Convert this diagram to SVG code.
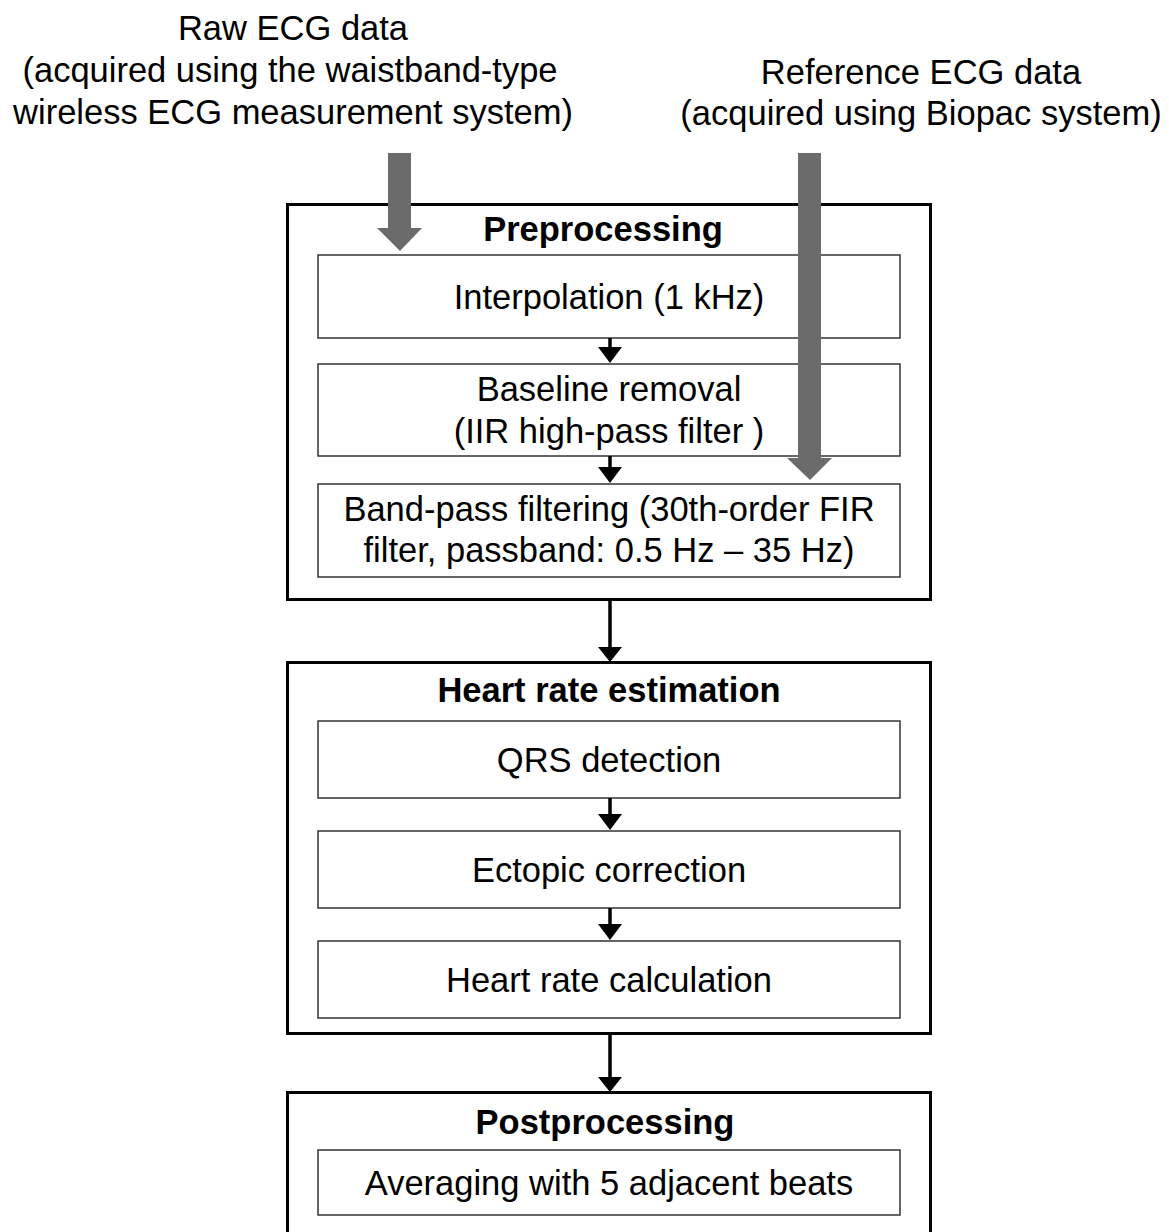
<svg xmlns="http://www.w3.org/2000/svg" width="1169" height="1232" viewBox="0 0 1169 1232">
  <style>
    text { font-family: "Liberation Sans", Arial, sans-serif; font-size: 34.5px; fill: #000; text-anchor: middle; }
    .title { font-weight: bold; }
    .outer { fill: #fff; stroke: #000; stroke-width: 3; }
    .inner { fill: #fff; stroke: #333; stroke-width: 1.5; }
    .link { stroke: #000; stroke-width: 3.5; fill: none; }
    .head { fill: #000; }
    .feed { fill: #6b6b6b; }
  </style>

  <!-- input labels -->
  <g id="label-raw">
    <text x="293" y="40">Raw ECG data</text>
    <text x="290" y="82">(acquired using the waistband-type</text>
    <text x="293" y="124">wireless ECG measurement system)</text>
  </g>
  <g id="label-ref">
    <text x="921" y="84">Reference ECG data</text>
    <text x="921" y="125">(acquired using Biopac system)</text>
  </g>

  <!-- Preprocessing stage -->
  <g id="preprocessing">
    <rect class="outer" x="287.5" y="204.5" width="643" height="395"/>
    <text class="title" x="603" y="241">Preprocessing</text>
    <g id="interpolation">
      <rect class="inner" x="318" y="255" width="582" height="83"/>
      <text x="609" y="309">Interpolation (1 kHz)</text>
    </g>
    <g id="baseline-removal">
      <rect class="inner" x="318" y="364" width="582" height="92"/>
      <text x="609" y="401">Baseline removal</text>
      <text x="609" y="443">(IIR high-pass filter )</text>
    </g>
    <g id="band-pass">
      <rect class="inner" x="318" y="484" width="582" height="93"/>
      <text x="609" y="521">Band-pass filtering (30th-order FIR</text>
      <text x="609" y="562">filter, passband: 0.5 Hz – 35 Hz)</text>
    </g>
  </g>

  <!-- Heart rate estimation stage -->
  <g id="heart-rate-estimation">
    <rect class="outer" x="287.5" y="662.5" width="643" height="371"/>
    <text class="title" x="609" y="702">Heart rate estimation</text>
    <g id="qrs-detection">
      <rect class="inner" x="318" y="721" width="582" height="77"/>
      <text x="609" y="772">QRS detection</text>
    </g>
    <g id="ectopic-correction">
      <rect class="inner" x="318" y="831" width="582" height="77"/>
      <text x="609" y="882">Ectopic correction</text>
    </g>
    <g id="heart-rate-calculation">
      <rect class="inner" x="318" y="941" width="582" height="77"/>
      <text x="609" y="992">Heart rate calculation</text>
    </g>
  </g>

  <!-- Postprocessing stage -->
  <g id="postprocessing">
    <rect class="outer" x="287.5" y="1092.5" width="643" height="160"/>
    <text class="title" x="605" y="1134">Postprocessing</text>
    <g id="averaging">
      <rect class="inner" x="318" y="1150" width="582" height="65"/>
      <text x="609" y="1195">Averaging with 5 adjacent beats</text>
    </g>
  </g>

  <!-- connectors between steps and stages -->
  <g id="connectors">
    <line class="link" x1="610" y1="338" x2="610" y2="349"/>
    <polygon class="head" points="598,347 622,347 610,363"/>
    <line class="link" x1="610" y1="456" x2="610" y2="469"/>
    <polygon class="head" points="598,467 622,467 610,483"/>

    <line class="link" x1="610" y1="600" x2="610" y2="649"/>
    <polygon class="head" points="598,647 622,647 610,662"/>

    <line class="link" x1="610" y1="798" x2="610" y2="816"/>
    <polygon class="head" points="598,814 622,814 610,830"/>
    <line class="link" x1="610" y1="908" x2="610" y2="926"/>
    <polygon class="head" points="598,924 622,924 610,940"/>

    <line class="link" x1="610" y1="1034" x2="610" y2="1079"/>
    <polygon class="head" points="598,1077 622,1077 610,1092"/>
  </g>

  <!-- data feed arrows -->
  <g id="feed-raw">
    <polygon class="feed" points="388,153 411,153 411,228 422,228 400,251 377,228 388,228"/>
  </g>
  <g id="feed-ref">
    <polygon class="feed" points="798,153 821,153 821,458 832,458 810,480 787,458 798,458"/>
  </g>
</svg>
